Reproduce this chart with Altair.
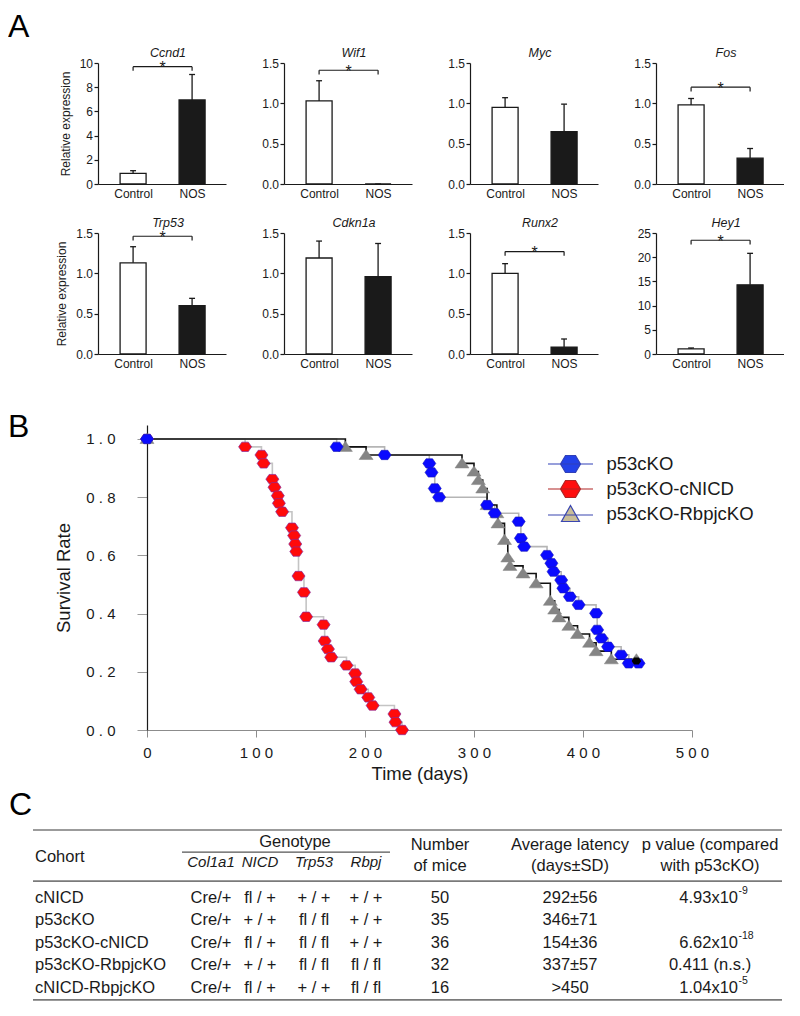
import altair as alt
import pandas as pd

FONT = "Liberation Sans"
INK = "#1a1a1a"

# ---------------- Panel A data ----------------
genes = ["Ccnd1", "Wif1", "Myc", "Fos", "Trp53", "Cdkn1a", "Runx2", "Hey1"]
conditions = ["Control", "NOS"]
control_mean = [0.88, 1.03, 0.95, 0.98, 1.13, 1.19, 1.00, 1.04]
control_sd = [0.22, 0.25, 0.12, 0.08, 0.20, 0.21, 0.12, 0.20]
nos_mean = [6.95, 0.00, 0.65, 0.32, 0.60, 0.96, 0.086, 14.3]
nos_sd = [2.10, 0.00, 0.34, 0.12, 0.09, 0.41, 0.10, 6.5]
axis_max = [10, 1.5, 1.5, 1.5, 1.5, 1.5, 1.5, 25]
axis_step = [2, 0.5, 0.5, 0.5, 0.5, 0.5, 0.5, 5]
significant = [True, True, False, True, True, False, True, True]
bracket_level = [9.7, 1.41, 0, 1.2, 1.46, 0, 1.27, 23.5]

# ---------------- Panel B data ----------------
cohorts_b = ["p53cKO", "p53cKO-cNICD", "p53cKO-RbpjcKO"]
p53_days = [0, 174, 218, 259, 261, 264, 268, 312, 319, 341, 343, 346, 367, 371,
            373, 380, 382, 388, 396, 412, 413, 417, 423, 435, 442, 451]
p53_surv = [1.0, 0.973, 0.945, 0.916, 0.885, 0.830, 0.800, 0.773, 0.745, 0.716,
            0.659, 0.630, 0.601, 0.573, 0.544, 0.515, 0.487, 0.458, 0.430, 0.401,
            0.344, 0.315, 0.286, 0.258, 0.229, 0.229]
nicd_days = [0, 90, 105, 107, 115, 117, 120, 121, 124, 133, 135, 136, 137, 139,
             144, 146, 162, 163, 166, 169, 183, 191, 192, 196, 203, 207, 227, 228, 234]
nicd_surv = [1.0, 0.973, 0.945, 0.916, 0.862, 0.834, 0.805, 0.779, 0.750, 0.695,
             0.668, 0.639, 0.613, 0.529, 0.473, 0.389, 0.362, 0.306, 0.278, 0.250,
             0.222, 0.194, 0.166, 0.140, 0.112, 0.084, 0.055, 0.027, 0.0]
rbpj_days = [0, 182, 201, 289, 300, 304, 308, 312, 321, 322, 328, 331, 333, 345,
             357, 370, 374, 378, 387, 395, 406, 412, 426, 449]
rbpj_surv = [1.0, 0.973, 0.945, 0.916, 0.888, 0.859, 0.830, 0.773, 0.745, 0.710,
             0.653, 0.593, 0.564, 0.538, 0.504, 0.444, 0.414, 0.387, 0.358, 0.330,
             0.300, 0.271, 0.243, 0.243]
censored_days = [449]
censored_surv = [0.237]

# ---------------- Panel C data ----------------
table_cohorts = ["cNICD", "p53cKO", "p53cKO-cNICD", "p53cKO-RbpjcKO", "cNICD-RbpjcKO"]
geno_col1a1 = ["Cre/+", "Cre/+", "Cre/+", "Cre/+", "Cre/+"]
geno_nicd = ["fl / +", "+ / +", "fl / +", "+ / +", "fl / +"]
geno_trp53 = ["+ / +", "fl / fl", "fl / fl", "fl / fl", "+ / +"]
geno_rbpj = ["+ / +", "+ / +", "+ / +", "fl / fl", "fl / fl"]
n_mice = [50, 35, 36, 32, 16]
latency = ["292\u00b156", "346\u00b171", "154\u00b136", "337\u00b157", ">450"]
p_mantissa = ["4.93x10", "", "6.62x10", "0.411 (n.s.)", "1.04x10"]
p_exponent = ["-9", "", "-18", "", "-5"]
geno_headers = ["Col1a1", "NICD", "Trp53", "Rbpj"]
panel_letters = ["A", "B", "C"]

# ================= Panel A =================
BAR_W, BAR_H = 128, 121
X_DOM = [0.49, 2.49]


def bar_panel(i):
    top = axis_max[i]
    step = axis_step[i]
    ticks = [round(k * step, 3) for k in range(int(round(top / step)) + 1)]
    fmt = ".1f" if step < 1 else "d"
    df = pd.DataFrame({
        "cond": conditions,
        "pos": [1, 2],
        "mean": [control_mean[i], nos_mean[i]],
        "sd": [control_sd[i], nos_sd[i]],
    })
    df["hi"] = df["mean"] + df["sd"]
    df["cl"] = df["pos"] - 0.05
    df["cr"] = df["pos"] + 0.05
    xax = alt.Axis(values=[1, 2], labelExpr="datum.value == 1 ? 'Control' : 'NOS'",
                   ticks=False, grid=False, title=None, domainColor=INK, domainWidth=1.2,
                   labelFontSize=12, labelColor=INK, labelPadding=4, labelFlush=False)
    yax = alt.Axis(values=ticks, format=fmt, grid=False, domainColor=INK, domainWidth=1.2,
                   tickColor=INK, tickSize=4, tickWidth=1.2, labelFontSize=12, labelColor=INK,
                   labelPadding=1.5, labelFlush=False,
                   title="Relative expression" if i % 4 == 0 else None,
                   titleFontSize=12, titleFontWeight="normal", titleColor=INK, titlePadding=7)

    def X(f):
        return alt.X(f"{f}:Q", scale=alt.Scale(domain=X_DOM, nice=False, zero=False), axis=xax)

    def Y(f):
        return alt.Y(f"{f}:Q", scale=alt.Scale(domain=[0, top], nice=False), axis=yax)

    base = alt.Chart(df)
    bars = base.mark_bar(size=26, stroke=INK, strokeWidth=1.3).encode(
        x=X("pos"), y=Y("mean"),
        fill=alt.Fill("cond:N", scale=alt.Scale(domain=conditions, range=["white", INK]), legend=None))
    err = base.mark_rule(color=INK, strokeWidth=1.3).encode(x=X("pos"), y=Y("mean"), y2="hi:Q")
    cap = base.mark_rule(color=INK, strokeWidth=1.3).encode(x=X("cl"), x2="cr:Q", y=Y("hi"))
    layers = [bars, err, cap]
    if significant[i]:
        b = bracket_level[i]
        drop = top * 0.035
        bdf = pd.DataFrame({"x": [1, 1, 2], "x2": [2, 1, 2],
                            "y": [b, b - drop, b - drop], "y2": [b, b, b]})
        layers.append(alt.Chart(bdf).mark_rule(color=INK, strokeWidth=1.2).encode(
            x=X("x"), x2="x2:Q", y=Y("y"), y2="y2:Q"))
        sdf = pd.DataFrame({"x": [1.5], "y": [b], "t": ["*"]})
        layers.append(alt.Chart(sdf).mark_text(fontSize=16, dy=6.5, baseline="alphabetic",
                                               color=INK).encode(x=X("x"), y=Y("y"), text="t:N"))
    return alt.layer(*layers).properties(
        width=BAR_W, height=BAR_H,
        title=alt.TitleParams(genes[i], fontStyle="italic", fontSize=12.5, fontWeight="normal",
                              color=INK, offset=-2, dx=6))


bar_charts = [bar_panel(i) for i in range(8)]

# ================= Panel B =================
SW, SH = 594, 327
sx = alt.Scale(domain=[0, 500], range=[49, 594], nice=False, zero=False)
sy = alt.Scale(domain=[0, 1.048], range=[327, 22], nice=False, zero=False)
x_axis_b = alt.Axis(values=[0, 100, 200, 300, 400, 500],
                    labelExpr="join(split(format(datum.value, 'd'), ''), ' ')",
                    grid=False, domainColor="#8c8c8c", domainWidth=1.2, tickColor="#8c8c8c",
                    tickSize=7, labelFontSize=15, labelColor=INK, labelPadding=8, labelFlush=False,
                    title="Time (days)", titleFontSize=18.5, titleFontWeight="normal",
                    titleColor=INK, titlePadding=4)
y_axis_b = alt.Axis(values=[0, 0.2, 0.4, 0.6, 0.8, 1.0],
                    labelExpr="join(split(format(datum.value, '.1f'), ''), ' ')",
                    grid=False, offset=-49, domainColor=INK, domainWidth=1.2, tickColor="#9a9a9a",
                    tickSize=10, labelFontSize=15, labelColor=INK, labelPadding=22,
                    labelFlush=False, title="Survival Rate", titleFontSize=18.5,
                    titleFontWeight="normal", titleColor=INK, titlePadding=12)


def SX(f):
    return alt.X(f"{f}:Q", scale=sx, axis=x_axis_b)


def SY(f):
    return alt.Y(f"{f}:Q", scale=sy, axis=y_axis_b)


HEX = "M-1,0L-0.5,-0.72L0.5,-0.72L1,0L0.5,0.72L-0.5,0.72Z"
TRI = "M0,-0.8L1,0.65L-1,0.65Z"
HEX_LEG = "M-2.25,0L2.25,0M-1,0L-0.5,-0.85L0.5,-0.85L1,0L0.5,0.85L-0.5,0.85Z"
TRI_LEG = "M-2.25,0.1L2.25,0.1M0,-0.85L0.9,0.75L-0.9,0.75Z"

p53_df = pd.DataFrame({"day": p53_days, "surv": p53_surv})
nicd_df = pd.DataFrame({"day": nicd_days, "surv": nicd_surv})
rbpj_df = pd.DataFrame({"day": rbpj_days, "surv": rbpj_surv})
cens_df = pd.DataFrame({"day": censored_days, "surv": censored_surv})

line_nicd = alt.Chart(nicd_df).mark_line(interpolate="step-after", color="#c4c4c4",
                                         strokeWidth=1.6).encode(x=SX("day"), y=SY("surv"))
line_p53 = alt.Chart(p53_df).mark_line(interpolate="step-after", color="#b5b5b5",
                                       strokeWidth=1.6).encode(x=SX("day"), y=SY("surv"))
line_rbpj = alt.Chart(rbpj_df).mark_line(interpolate="step-after", color="#111111",
                                         strokeWidth=1.6).encode(x=SX("day"), y=SY("surv"))
pts_nicd = alt.Chart(nicd_df).mark_point(shape=HEX, filled=True, size=169, fill="#ff0a0a",
                                         stroke="#8a2a9a", strokeWidth=0.7, opacity=1).encode(
    x=SX("day"), y=SY("surv"))
pts_rbpj = alt.Chart(rbpj_df).mark_point(shape=TRI, filled=True, size=196, fill="#858585",
                                         stroke="#858585", strokeWidth=0.5, opacity=1).encode(
    x=SX("day"), y=SY("surv"))
pts_p53 = alt.Chart(p53_df).mark_point(shape=HEX, filled=True, size=169, fill="#0a0aff",
                                       stroke="#1a1ab8", strokeWidth=0.6, opacity=1).encode(
    x=SX("day"), y=SY("surv"))
pts_cens = alt.Chart(cens_df).mark_point(shape=HEX, filled=True, size=90, fill="black",
                                         opacity=1).encode(x=SX("day"), y=SY("surv"))

# legend position is measured from the top-left of the first panel (Ccnd1)
LEG = alt.Legend(title=None, orient="none", legendX=461.5, legendY=390, symbolSize=400,
                 symbolStrokeWidth=1.2, symbolOpacity=1,
                 labelFontSize=18.5, labelColor=INK,
                 labelOffset=25, rowPadding=3, padding=0, labelFont=FONT)
leg_df = pd.DataFrame({"cohort": cohorts_b, "day": [0, 0, 0], "surv": [0, 0, 0]})
legend_layer = alt.Chart(leg_df).mark_point(filled=True, strokeWidth=1.2, opacity=1).encode(
    x=SX("day"), y=SY("surv"),
    color=alt.Color("cohort:N", scale=alt.Scale(domain=cohorts_b,
                                                range=["#2342e8", "#ff0e0e", "#c8bd98"]), legend=LEG),
    stroke=alt.Stroke("cohort:N", scale=alt.Scale(domain=cohorts_b,
                                                  range=["#3040b8", "#b02424", "#3a46b0"]), legend=LEG),
    shape=alt.Shape("cohort:N", scale=alt.Scale(domain=cohorts_b,
                                                range=[HEX_LEG, HEX_LEG, TRI_LEG]), legend=LEG),
).transform_filter("false")


def letter(t, px, py):
    return alt.Chart(pd.DataFrame({"t": [t]})).mark_text(
        fontSize=32, align="left", baseline="alphabetic", color="black").encode(
        x=alt.value(px), y=alt.value(py), text="t:N")


letter_a = letter(panel_letters[0], -90, -366)
letter_b = letter(panel_letters[1], -90, 34)

survival = alt.layer(line_nicd, line_p53, line_rbpj, pts_nicd, pts_rbpj, pts_p53, pts_cens,
                     legend_layer, letter_a, letter_b).properties(width=SW, height=SH)

# ================= Panel C =================
TW, TH = 684, 222
tx = alt.Scale(domain=[0, 800], range=[-98, 702], nice=False, zero=False)
ty = alt.Scale(domain=[0, 7.6], range=[51, 51 + 7.6 * 22.5], nice=False, zero=False)
col_x = {"cohort": 35, "col1a1": 211, "nicd": 260, "trp53": 314, "rbpj": 366,
         "mice": 440, "latency": 570, "pval": 710, "pexp": 738}
row_y = {"geno": 0.53, "head1": 0.67, "cohort": 1.2, "sub": 1.42, "head2": 1.6}


def TXc(f="x"):
    return alt.X(f"{f}:Q", scale=tx, axis=None)


def TYc(f="y"):
    return alt.Y(f"{f}:Q", scale=ty, axis=None)


left_rows = [("Cohort", col_x["cohort"], row_y["cohort"])]
center_rows = [("Genotype", 295, row_y["geno"]),
               ("Number", col_x["mice"], row_y["head1"]), ("of mice", col_x["mice"], row_y["head2"]),
               ("Average latency", col_x["latency"], row_y["head1"]),
               ("(days\u00b1SD)", col_x["latency"], row_y["head2"]),
               ("p value (compared", col_x["pval"], row_y["head1"]),
               ("with p53cKO)", col_x["pval"], row_y["head2"])]
italic_rows = [(h, col_x[k], row_y["sub"]) for h, k in
               zip(geno_headers, ["col1a1", "nicd", "trp53", "rbpj"])]
pbase_rows, pexp_rows = [], []
for r in range(len(table_cohorts)):
    yy = 3 + r
    left_rows.append((table_cohorts[r], col_x["cohort"], yy))
    center_rows += [(geno_col1a1[r], col_x["col1a1"], yy), (geno_nicd[r], col_x["nicd"], yy),
                    (geno_trp53[r], col_x["trp53"], yy), (geno_rbpj[r], col_x["rbpj"], yy),
                    (str(n_mice[r]), col_x["mice"], yy), (latency[r], col_x["latency"], yy)]
    if p_exponent[r]:
        pbase_rows.append((p_mantissa[r], col_x["pexp"], yy))
        pexp_rows.append((p_exponent[r], col_x["pexp"] + 0.5, yy))
    elif p_mantissa[r]:
        center_rows.append((p_mantissa[r], col_x["pval"], yy))


def tdf(rows):
    return pd.DataFrame(rows, columns=["t", "x", "y"])


txt_left = alt.Chart(tdf(left_rows)).mark_text(align="left", fontSize=16.5, color=INK).encode(
    x=TXc(), y=TYc(), text="t:N")
txt_center = alt.Chart(tdf(center_rows)).mark_text(align="center", fontSize=16.5, color=INK).encode(
    x=TXc(), y=TYc(), text="t:N")
txt_italic = alt.Chart(tdf(italic_rows)).mark_text(align="center", fontSize=15, fontStyle="italic",
                                                   color=INK).encode(x=TXc(), y=TYc(), text="t:N")
txt_pbase = alt.Chart(tdf(pbase_rows)).mark_text(align="right", fontSize=16.5, color=INK).encode(
    x=TXc(), y=TYc(), text="t:N")
txt_pexp = alt.Chart(tdf(pexp_rows)).mark_text(align="left", fontSize=10.5, dy=-7, color=INK).encode(
    x=TXc(), y=TYc(), text="t:N")

main_lines = pd.DataFrame({"x": [33, 33, 33], "x2": [782, 782, 782], "y": [0, 2.27, 7.55]})
sub_line = pd.DataFrame({"x": [182], "x2": [390], "y": [0.98]})
rules_main = alt.Chart(main_lines).mark_rule(color="#7a7a7a", strokeWidth=1.6).encode(
    x=TXc(), x2="x2:Q", y=TYc())
rules_sub = alt.Chart(sub_line).mark_rule(color="#555555", strokeWidth=1.2).encode(
    x=TXc(), x2="x2:Q", y=TYc())
letter_c = letter(panel_letters[2], -89, 36)

table = alt.layer(rules_main, rules_sub, txt_left, txt_center, txt_italic, txt_pbase, txt_pexp,
                  letter_c).properties(width=TW, height=TH)

lower = alt.vconcat(survival, table, spacing=49, bounds="flush")

chart = alt.concat(*bar_charts, lower, columns=4, spacing={"row": 49, "column": 58},
                   bounds="flush", align={"row": "each", "column": "none"}).properties(
    padding={"left": 0, "top": 3, "right": 0, "bottom": 0}, background="white"
).configure(font=FONT).configure_view(stroke=None)

chart.save("out.html", embed_options={"renderer": "svg", "actions": False})
